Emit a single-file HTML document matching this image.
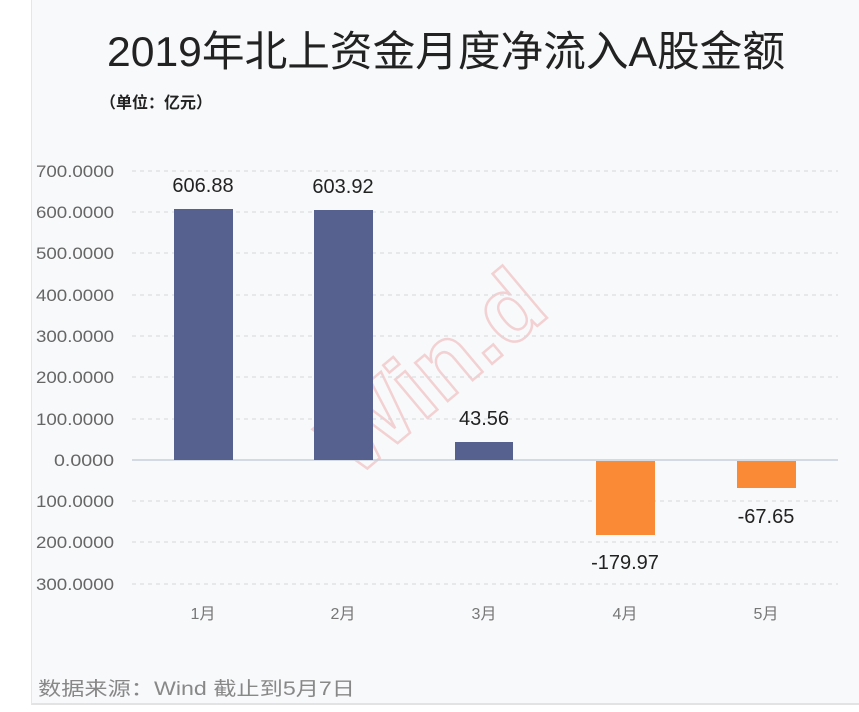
<!DOCTYPE html>
<html><head><meta charset="utf-8"><style>
body{margin:0;width:859px;height:712px;background:#fff;overflow:hidden;font-family:"Liberation Sans","Noto Sans CJK SC",sans-serif}
.card{position:absolute;left:31px;top:0;width:828px;height:703px;background:#f8f9fb;border-left:1px solid #e6e6e6;border-bottom:2px solid #e3e3e3}
svg{position:absolute;left:0;top:0}
</style></head><body>
<div class="card"></div>
<svg width="859" height="712" font-family="Liberation Sans, Noto Sans CJK SC, sans-serif">
<g transform="translate(450,360) rotate(-40)" font-size="95" font-weight="bold" fill="none" stroke="#f0b8b8" stroke-width="2.5" opacity="0.6">
<text x="-150" y="30">Win.d</text>
</g>
<text x="446" y="66" text-anchor="middle" font-size="42" fill="#222" textLength="678" lengthAdjust="spacingAndGlyphs">2019年北上资金月度净流入A股金额</text>
<text x="100" y="108" font-size="16" font-weight="bold" fill="#222">（单位：亿元）</text>
<g stroke="#d4d6da" stroke-dasharray="4,4" stroke-width="1">
<line x1="132" x2="838" y1="171" y2="171"/><line x1="132" x2="838" y1="212" y2="212"/>
<line x1="132" x2="838" y1="253" y2="253"/><line x1="132" x2="838" y1="295" y2="295"/>
<line x1="132" x2="838" y1="336" y2="336"/><line x1="132" x2="838" y1="377" y2="377"/>
<line x1="132" x2="838" y1="419" y2="419"/><line x1="132" x2="838" y1="501" y2="501"/>
<line x1="132" x2="838" y1="542" y2="542"/><line x1="132" x2="838" y1="584" y2="584"/>
</g>
<line x1="132" x2="838" y1="460" y2="460" stroke="#c8d0dc" stroke-width="1.5"/>
<g font-size="17" fill="#666" text-anchor="end">
<text x="114" y="177" textLength="78" lengthAdjust="spacingAndGlyphs">700.0000</text><text x="114" y="218" textLength="78" lengthAdjust="spacingAndGlyphs">600.0000</text>
<text x="114" y="259" textLength="78" lengthAdjust="spacingAndGlyphs">500.0000</text><text x="114" y="301" textLength="78" lengthAdjust="spacingAndGlyphs">400.0000</text>
<text x="114" y="342" textLength="78" lengthAdjust="spacingAndGlyphs">300.0000</text><text x="114" y="383" textLength="78" lengthAdjust="spacingAndGlyphs">200.0000</text>
<text x="114" y="425" textLength="78" lengthAdjust="spacingAndGlyphs">100.0000</text><text x="114" y="466" textLength="60" lengthAdjust="spacingAndGlyphs">0.0000</text>
<text x="114" y="507" textLength="78" lengthAdjust="spacingAndGlyphs">100.0000</text><text x="114" y="548" textLength="78" lengthAdjust="spacingAndGlyphs">200.0000</text>
<text x="114" y="590" textLength="78" lengthAdjust="spacingAndGlyphs">300.0000</text>
</g>
<g fill="#56618f">
<rect x="174" y="209" width="59" height="251"/>
<rect x="314" y="210" width="59" height="250"/>
<rect x="455" y="442" width="58" height="18"/>
</g>
<g fill="#fb8a37">
<rect x="596" y="461" width="59" height="74"/>
<rect x="737" y="461" width="59" height="27"/>
</g>
<g font-size="20" fill="#222" text-anchor="middle">
<text x="203" y="192">606.88</text><text x="343" y="193">603.92</text>
<text x="484" y="425">43.56</text><text x="625" y="569">-179.97</text>
<text x="766" y="523">-67.65</text>
</g>
<g font-size="16" fill="#777" text-anchor="middle">
<text x="203" y="619">1月</text><text x="343" y="619">2月</text><text x="484" y="619">3月</text>
<text x="625" y="619">4月</text><text x="766" y="619">5月</text>
</g>
<text x="38" y="695" font-size="19" fill="#888" textLength="317" lengthAdjust="spacingAndGlyphs">数据来源：Wind   截止到5月7日</text>
</svg>
</body></html>
